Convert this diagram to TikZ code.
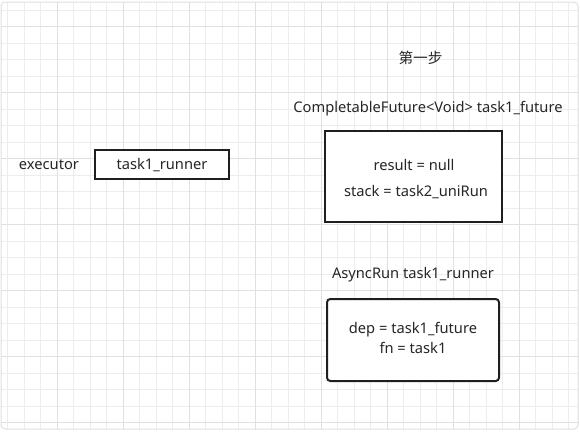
\documentclass[tikz,border=0pt]{standalone}
\usepackage{fontspec}
\setmainfont{Noto Sans}
\newfontfamily\cjk{Noto Sans CJK SC}
\begin{document}
\begin{tikzpicture}[x=0.75pt,y=-0.75pt,
  minorgrid/.style={draw=black!7,line width=0.75pt},
  majorgrid/.style={draw=black!12,line width=0.75pt},
  txt/.style={text=black!85,font=\fontsize{11pt}{13pt}\selectfont,inner sep=0pt,anchor=center},
  boxa/.style={draw=black!88,line width=1.5pt,inner sep=0pt,fill=white},
]
\useasboundingbox (0,0) rectangle (580,432);
\fill[white] (0,0) rectangle (580,432);
\begin{scope}
\clip (1,2) rectangle (578,429);
\foreach \k in {1,...,35} {\draw[minorgrid] ({-9+16.5*\k},0) -- ({-9+16.5*\k},432);}
\foreach \k in {1,...,27} {\draw[minorgrid] (0,{-39.3+16.5*\k}) -- (580,{-39.3+16.5*\k});}
\foreach \k in {1,...,8} {\draw[majorgrid] ({-9+66*\k},0) -- ({-9+66*\k},432);}
\foreach \k in {0,...,6} {\draw[majorgrid] (0,{26.7+66*\k}) -- (580,{26.7+66*\k});}
\end{scope}
\draw[black!12,line width=0.75pt,rounded corners=3pt] (1,2) rectangle (578,429);

\node[txt] (executor) at (49,165) {executor};
\node[boxa,minimum width=134*0.75pt,minimum height=29*0.75pt] (runnerbox) at (162,164.5) {};
\node[txt] (runnertxt) at (162,165) {task1\_runner};

\node[txt,font=\cjk\fontsize{11pt}{13pt}\selectfont] (step) at (420.5,58) {第一步};
\node[txt] (cftitle) at (428,109) {CompletableFuture<Void> task1\_future};
\node[boxa,minimum width=177*0.75pt,minimum height=91*0.75pt] (cfbox) at (413.5,176.5) {};
\node[txt] (result) at (414,165) {result = null};
\node[txt] (stack) at (416,192) {stack = task2\_uniRun};

\node[txt] (artitle) at (413,275) {AsyncRun task1\_runner};
\node[boxa,rounded corners=2.5pt,minimum width=172*0.75pt,minimum height=82*0.75pt] (arbox) at (413,340) {};
\node[txt] (dep) at (413,330) {dep = task1\_future};
\node[txt] (fn) at (413,348) {fn = task1};
\end{tikzpicture}
\end{document}
